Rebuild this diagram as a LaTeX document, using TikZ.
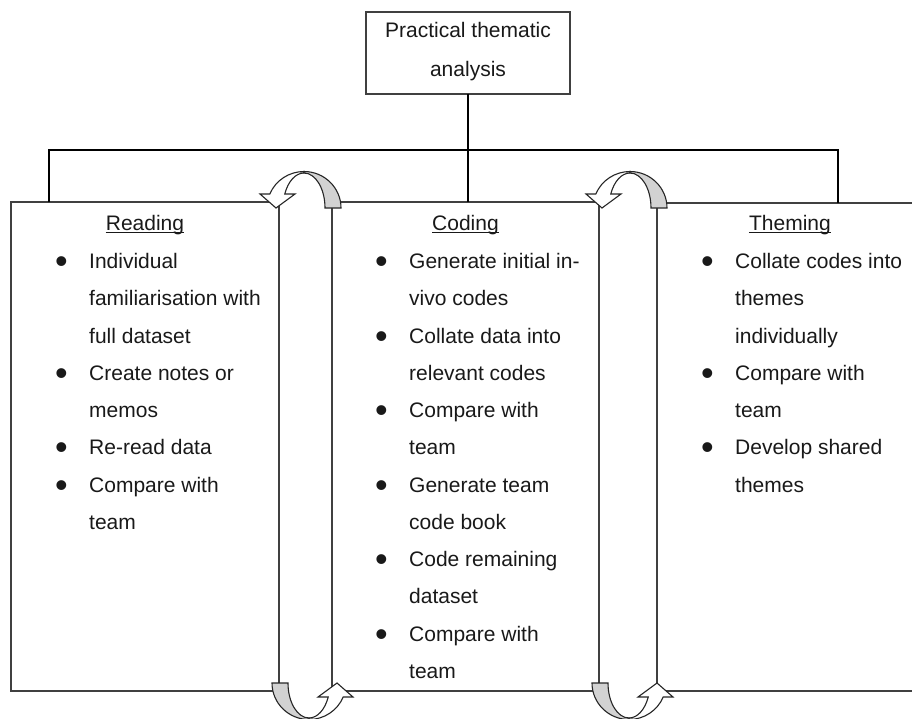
\documentclass[tikz,border=0pt]{standalone}
\usepackage{fontspec}
\setmainfont{Liberation Sans}
\usetikzlibrary{calc}
\newcommand{\mybul}{\llap{\raisebox{-5pt}{\fontsize{36}{36}\selectfont\textbullet}\hspace{21.5pt}}}
\tikzset{
  boxst/.style={draw=black!75, line width=1.2pt, inner sep=0pt, outer sep=0pt},
  conn/.style={draw=black, line width=1.5pt},
  txt/.style={anchor=base west, inner sep=0pt, font=\fontsize{21}{25}\selectfont, text=black!90},
  head/.style={anchor=base, inner sep=0pt, font=\fontsize{21}{25}\selectfont, text=black!90},
  uline/.style={draw=black!90, line width=1.3pt},
  arrst/.style={draw=black!85, line width=1.1pt},
  twist/.pic={
    \filldraw[arrst, fill=white] (-16,14) -- (-6.2,14)
      .. controls (-0.42,27.63) and (13.06,36.5) .. (28,36.5)
      -- (28,35)
      .. controls (19.65,35) and (12.1,26.76) .. (8.76,14)
      -- (19,14) -- (0,0) -- cycle;
    \filldraw[arrst, fill=gray!35] (28,36.5)
      .. controls (48.43,36.5) and (65,20.16) .. (65,0)
      -- (49,0)
      .. controls (49,19.33) and (39.6,35) .. (28,35)
      -- cycle;
  }
}
\begin{document}
\begin{tikzpicture}[x=1pt, y=1pt, yscale=-1]
\useasboundingbox (0,0) rectangle (912,718);
\clip (0,0) rectangle (912,718);

% boxes
\node[boxst, minimum width=204pt, minimum height=82pt] (top) at (468,53) {};
\node[boxst, minimum width=268pt, minimum height=489pt] (reading) at (145,446.5) {};
\node[boxst, minimum width=267pt, minimum height=489pt] (coding) at (465.5,446.5) {};
\node[boxst, minimum width=266pt, minimum height=488pt] (theming) at (790,447) {};

% connectors
\coordinate (bl) at (49,150);
\coordinate (br) at (838,150);
\draw[conn] (top.south) -- (top.south |- coding.north);
\draw[conn] (bl |- reading.north) -- (bl) -- (br) -- (br |- theming.north);

% top text
\node[head] (t1) at (468,37.3) {Practical thematic};
\node[head] (t2) at (468,76.7) {analysis};

% headings
\node[head] (hR) at (145,230) {Reading};
\node[head] (hC) at (465.5,230) {Coding};
\node[head] (hT) at (790,230) {Theming};
\foreach \h in {hR,hC,hT}
  \draw[uline] ($(\h.base west)+(0,2.8)$) -- ($(\h.base east)+(0,2.8)$);

% lists
\foreach \t [count=\i from 0] in {{\mybul Individual},{familiarisation with},{full dataset},{\mybul Create notes or},{memos},{\mybul Re-read data},{\mybul Compare with},{team}}
  \node[txt] (rd\i) at (89,268.5+37.25*\i) {\t};
\foreach \t [count=\i from 0] in {{\mybul Generate initial in-},{vivo codes},{\mybul Collate data into},{relevant codes},{\mybul Compare with},{team},{\mybul Generate team},{code book},{\mybul Code remaining},{dataset},{\mybul Compare with},{team}}
  \node[txt] (cd\i) at (409,268.5+37.25*\i) {\t};
\foreach \t [count=\i from 0] in {{\mybul Collate codes into},{themes},{individually},{\mybul Compare with},{team},{\mybul Develop shared},{themes}}
  \node[txt] (th\i) at (735,268.5+37.25*\i) {\t};

% curved arrows
\pic (u1) at (276,208) {twist};
\pic (u2) at (602,208) {twist};
\pic[rotate=180] (d1) at (337,683) {twist};
\pic[rotate=180] (d2) at (657,683) {twist};
\end{tikzpicture}
\end{document}
